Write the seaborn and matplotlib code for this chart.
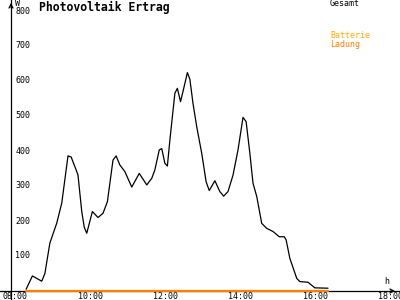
import matplotlib
matplotlib.use("Agg")
import matplotlib.pyplot as plt
import seaborn as sns
import pandas as pd

# ---- data ----
gesamt_times = ["08:17", "08:27", "08:42", "08:47", "08:55", "09:06", "09:14", "09:24", "09:29",
                "09:37", "09:40", "09:46", "09:50", "09:54", "10:03", "10:12", "10:20", "10:27",
                "10:36", "10:41", "10:47", "10:55", "11:06", "11:18", "11:30", "11:38", "11:43",
                "11:50", "11:54", "11:59", "12:03", "12:07", "12:15", "12:19", "12:24", "12:28",
                "12:35", "12:39", "12:44", "12:50", "12:58", "13:05", "13:10", "13:19", "13:27",
                "13:33", "13:40", "13:48", "13:56", "14:04", "14:09", "14:15", "14:20", "14:26",
                "14:34", "14:42", "14:52", "15:02", "15:10", "15:13", "15:19", "15:30", "15:35",
                "15:48", "15:59", "16:20"]
gesamt_values = [5, 43, 28, 50, 137, 194, 251, 386, 383,
                 346, 331, 227, 182, 165, 227, 210, 222, 255,
                 374, 386, 360, 341, 297, 336, 303, 322, 346,
                 403, 407, 365, 357, 431, 565, 579, 541, 570,
                 624, 605, 536, 469, 393, 312, 287, 315, 284,
                 271, 284, 331, 403, 496, 484, 393, 308, 270,
                 193, 179, 170, 155, 155, 146, 93, 36, 27,
                 25, 9, 8]
ladung_times = ["08:17", "16:20"]
ladung_values = [0, 0]
x_ticks = [8, 10, 12, 14, 16, 18]
x_tick_labels = ["08:00", "10:00", "12:00", "14:00", "16:00", "18:00"]
y_ticks = [100, 200, 300, 400, 500, 600, 700, 800]


def to_hours(t):
    h, m = t.split(":")
    return int(h) + int(m) / 60.0


df_g = pd.DataFrame({"t": [to_hours(t) for t in gesamt_times], "W": gesamt_values})
df_l = pd.DataFrame({"t": [to_hours(t) for t in ladung_times], "W": ladung_values})

sns.set_style("white")
plt.rcParams["font.family"] = ["DejaVu Sans Mono", "DejaVu Sans"]
plt.rcParams["text.color"] = "black"

fig = plt.figure(figsize=(4, 3), dpi=100)
ax = fig.add_axes([0, 0, 1, 1])

# pixel mapping: 37.5 px per hour, 08:00 at x=15.5 px; 0.35 px per W, 0 at y=291 px
ax.set_xlim(8 - 15.5 / 37.5, 8 + (400 - 15.5) / 37.5)
ax.set_ylim((291 - 300) / 0.35, 291 / 0.35)
y_axis_at = 8 - 4.5 / 37.5

sns.lineplot(data=df_g, x="t", y="W", ax=ax, color="black", lw=0.9, zorder=3)
sns.lineplot(data=df_l, x="t", y="W", ax=ax, color="#FF8000", lw=1.6, zorder=4)

for s in ["top", "right"]:
    ax.spines[s].set_visible(False)
ax.spines["left"].set_position(("data", y_axis_at))
ax.spines["bottom"].set_position(("data", 0))
for s in ["left", "bottom"]:
    ax.spines[s].set_color("black")
    ax.spines[s].set_linewidth(0.9)

ax.set_xticks(x_ticks)
ax.set_xticklabels(x_tick_labels, fontsize=6)
ax.set_yticks(y_ticks)
ax.set_yticklabels([])
ax.tick_params(axis="both", direction="inout", length=5, width=0.9, colors="black")
ax.tick_params(axis="x", pad=-1.8)
ax.set_xlabel("")
ax.set_ylabel("")
for v in y_ticks:
    ax.annotate(str(v), xy=(y_axis_at, v), xytext=(3, 0), textcoords="offset points",
                va="center", ha="left", fontsize=6, color="black")

# axis arrows
ax.annotate("", xy=(1.0 - 2 / 400, 0), xycoords=("axes fraction", "data"),
            xytext=(1.0 - 12 / 400, 0), textcoords=("axes fraction", "data"),
            arrowprops=dict(arrowstyle="->", lw=0.9, color="black", mutation_scale=7))
ax.annotate("", xy=(y_axis_at, 1.0), xycoords=("data", "axes fraction"),
            xytext=(y_axis_at, 1.0 - 10 / 300), textcoords=("data", "axes fraction"),
            arrowprops=dict(arrowstyle="->", lw=0.9, color="black", mutation_scale=7))

# texts (figure pixel positions)
def fx(px):
    return px / 400.0


def fy(py):
    return 1 - py / 300.0


fig.text(fx(39), fy(7), "Photovoltaik Ertrag", fontsize=8.3, fontweight="bold",
         va="center", ha="left")
fig.text(fx(15), fy(3), "W", fontsize=6, va="center", ha="left")
fig.text(fx(384), fy(281), "h", fontsize=6, va="center", ha="left")
fig.text(fx(330), fy(4), "Gesamt", fontsize=6, va="center", ha="left", color="black")
fig.text(fx(330), fy(36), "Batterie", fontsize=6, va="center", ha="left", color="#FFAA00")
fig.text(fx(330), fy(44), "Ladung", fontsize=6, va="center", ha="left", color="#FF8000")

fig.savefig("out.png", dpi=100)
